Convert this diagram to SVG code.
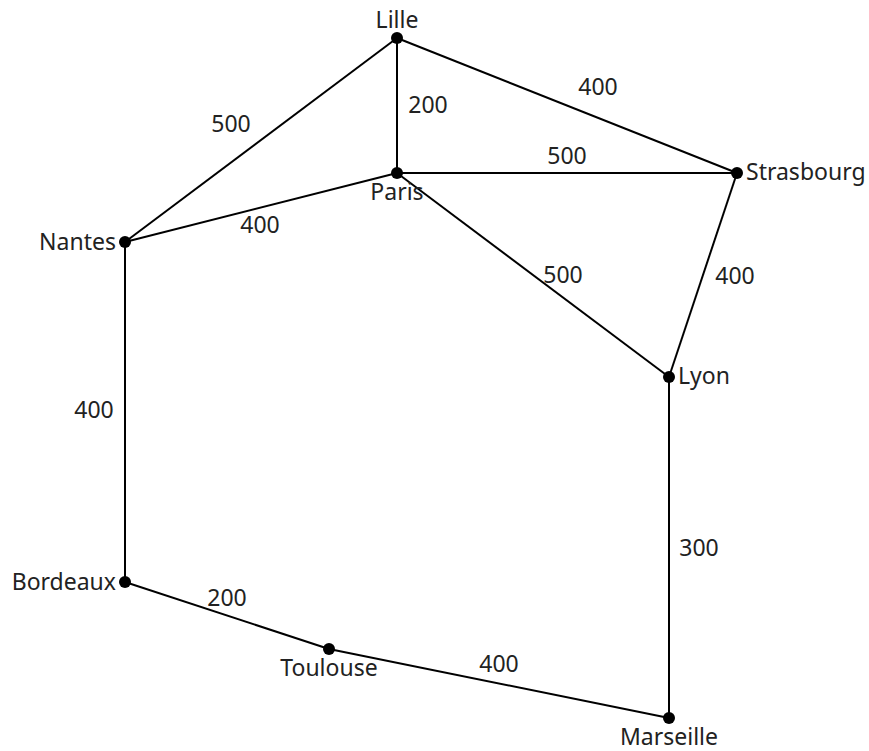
<svg xmlns="http://www.w3.org/2000/svg" width="869" height="751" viewBox="0 0 869 751">
<style>
.e{stroke:#000;stroke-width:2;fill:none}
.d{fill:#000}
text{font-family:"Noto Sans","DejaVu Sans",sans-serif;font-size:23px;fill:#222}
.m{text-anchor:middle}
.r{text-anchor:end}
</style>
<rect width="869" height="751" fill="#fff"/>
<g id="connectors">
<line class="e" x1="397" y1="38" x2="125" y2="242"/>
<line class="e" x1="397" y1="38" x2="397" y2="173"/>
<line class="e" x1="397" y1="38" x2="737" y2="173"/>
<line class="e" x1="397" y1="173" x2="737" y2="173"/>
<line class="e" x1="397" y1="173" x2="125" y2="242"/>
<line class="e" x1="397" y1="173" x2="669" y2="377"/>
<line class="e" x1="737" y1="173" x2="669" y2="377"/>
<line class="e" x1="125" y1="242" x2="125" y2="582"/>
<line class="e" x1="669" y1="377" x2="669" y2="718"/>
<line class="e" x1="125" y1="582" x2="329" y2="649"/>
<line class="e" x1="329" y1="649" x2="669" y2="718"/>
<text class="m" x="231" y="132">500</text>
<text class="m" x="428" y="113">200</text>
<text class="m" x="598" y="95">400</text>
<text class="m" x="567" y="164">500</text>
<text class="m" x="260" y="233">400</text>
<text class="m" x="563" y="283">500</text>
<text class="m" x="735" y="284">400</text>
<text class="m" x="94" y="418">400</text>
<text class="m" x="699" y="556">300</text>
<text class="m" x="227" y="606">200</text>
<text class="m" x="499" y="672">400</text>
</g>
<g id="lille"><circle class="d" cx="397" cy="38" r="6"/><text class="m" x="397" y="28">Lille</text></g>
<g id="paris"><circle class="d" cx="397" cy="173" r="6"/><text class="m" x="397" y="200">Paris</text></g>
<g id="strasbourg"><circle class="d" cx="737" cy="173" r="6"/><text x="746" y="180">Strasbourg</text></g>
<g id="nantes"><circle class="d" cx="125" cy="242" r="6"/><text class="r" x="116" y="250">Nantes</text></g>
<g id="lyon"><circle class="d" cx="669" cy="377" r="6"/><text x="678" y="384">Lyon</text></g>
<g id="bordeaux"><circle class="d" cx="125" cy="582" r="6"/><text class="r" x="116" y="590">Bordeaux</text></g>
<g id="toulouse"><circle class="d" cx="329" cy="649" r="6"/><text class="m" x="329" y="676">Toulouse</text></g>
<g id="marseille"><circle class="d" cx="669" cy="718" r="6"/><text class="m" x="669" y="745">Marseille</text></g>
</svg>
